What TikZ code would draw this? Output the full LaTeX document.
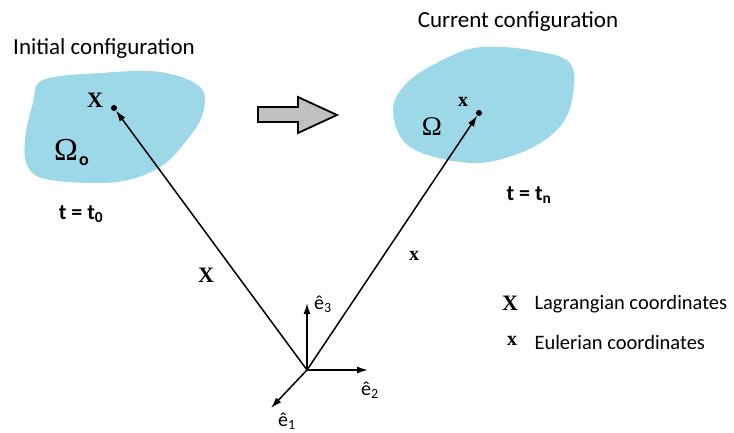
\documentclass[tikz,border=0pt]{standalone}
\usepackage{fontspec}
\setmainfont{Liberation Serif}
\setsansfont{Carlito}
\usetikzlibrary{arrows.meta}
\definecolor{blobblue}{HTML}{9DD8E8}
\definecolor{arrowgray}{HTML}{C0C0C0}

\begin{document}
\begin{tikzpicture}[x=1pt, y=-1pt, >={Latex[length=11pt,width=7pt]}, font=\sffamily\fontsize{20.5}{23}\selectfont]
  \tikzstyle{dot}=[circle, fill=black, inner sep=0pt, minimum size=6pt]
  \tikzstyle{vec}=[->, line width=1.5pt]
  \tikzstyle{sym}=[font=\rmfamily\bfseries\fontsize{22}{24}\selectfont]
  \tikzstyle{symsm}=[font=\rmfamily\bfseries\fontsize{20}{22}\selectfont]
  \tikzstyle{title}=[font=\sffamily\fontsize{23}{26}\selectfont]
  \tikzstyle{timelbl}=[font=\sffamily\bfseries\fontsize{22}{25}\selectfont]
  \tikzstyle{basis}=[font=\sffamily\fontsize{20}{22}\selectfont]
  \useasboundingbox (0,0) rectangle (734,433);

  % ------- bodies -------
  \fill[blobblue] plot[smooth cycle, tension=0.6] coordinates {(43,80) (100,73) (160,72) (200,87) (203,113) (187,140) (160,167) (117,182) (50,180) (28,167) (25,140) (33,103)};
  \fill[blobblue] plot[smooth cycle, tension=0.6] coordinates {(453,55) (483,47) (530,50) (570,63) (572,100) (557,130) (520,153) (470,163) (410,147) (393,110) (410,80)};

  % block arrow between configurations
  \draw[line width=1.8pt, fill=arrowgray, line join=miter] (258,107) -- (298,107) -- (298,97) -- (337,115) -- (298,133) -- (298,122) -- (258,122) -- cycle;

  % ------- nodes -------
  \node[title] (init) at (104,48) {Initial configuration};
  \node[title] (curr) at (518,22) {Current configuration};
  \node[timelbl] (t0) at (81,214) {t = t\textsubscript{0}};
  \node[timelbl] (tn) at (529,195) {t = t\textsubscript{n}};

  \node[dot] (P0) at (114,108) {};
  \node[dot] (P1) at (479,113) {};
  \node[sym] (Xpt) at (95,100) {X};
  \node[symsm] (xpt) at (463,102) {x};
  \node[font=\rmfamily\fontsize{32}{34}\selectfont] (om0) at (66,150) {Ω};
  \node[font=\sffamily\bfseries\fontsize{18}{20}\selectfont] (om0s) at (84,161) {o};
  \node[font=\rmfamily\fontsize{27}{29}\selectfont] (om) at (432,127) {Ω};

  \node[sym] (Xvec) at (206,275) {X};
  \node[symsm] (xvec) at (414,256) {x};

  % basis
  \coordinate (O) at (307,370);
  \coordinate (e3) at (307,303);
  \coordinate (e2) at (368,370);
  \coordinate (e1) at (271,408);
  \node[basis] (e3l) at (323,304) {ê\textsubscript{3}};
  \node[basis] (e2l) at (370,390) {ê\textsubscript{2}};
  \node[basis] (e1l) at (287,421) {ê\textsubscript{1}};

  % legend
  \node[sym] (lgX) at (510,303) {X};
  \node[anchor=west] (lgXt) at (531,304) {Lagrangian coordinates};
  \node[symsm] (lgx) at (512,341) {x};
  \node[anchor=west] (lgxt) at (531,342) {Eulerian coordinates};

  % ------- arrows -------
  \draw[vec] (O) -- (P0);
  \draw[vec] (O) -- (P1);
  \draw[vec] (O) -- (e3);
  \draw[vec] (O) -- (e2);
  \draw[vec] (O) -- (e1);
\end{tikzpicture}
\end{document}
